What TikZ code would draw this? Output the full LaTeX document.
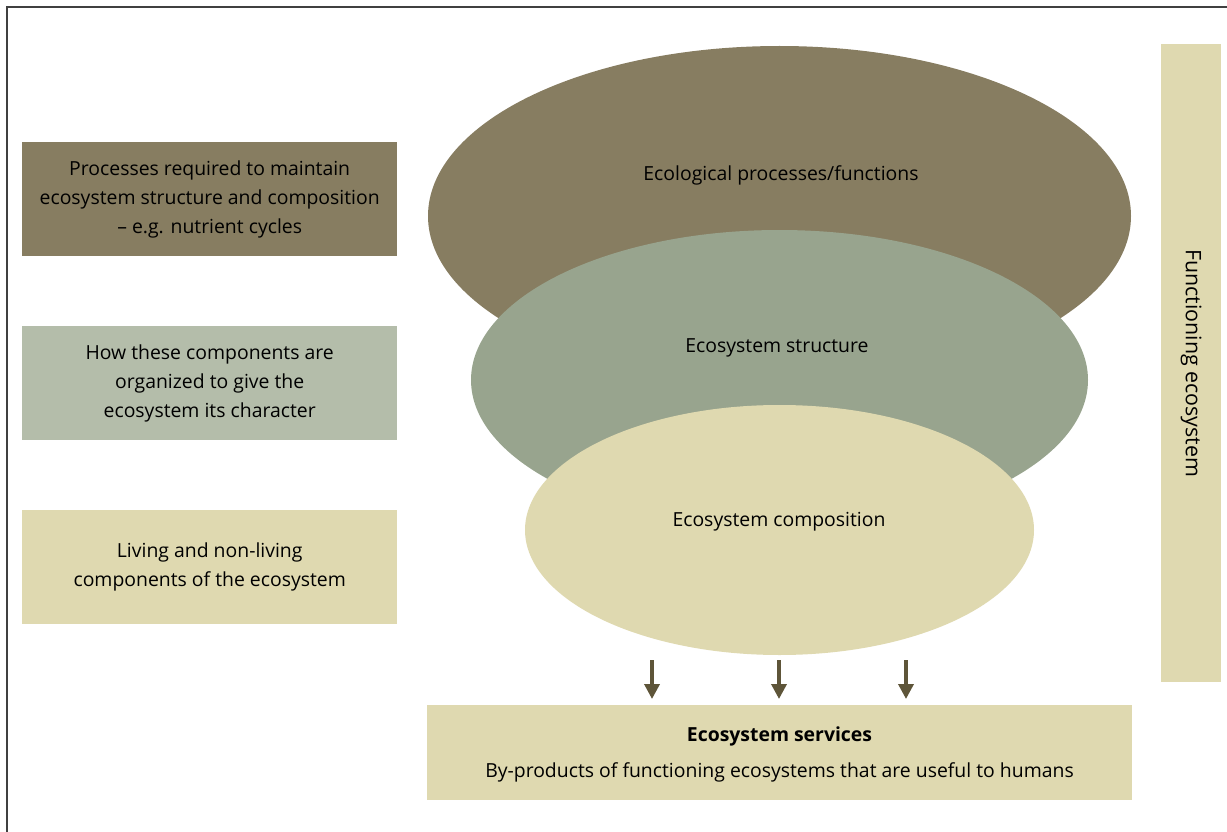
\documentclass[tikz,border=0pt]{standalone}
\usepackage{fontspec}
\setmainfont{Open Sans}
\definecolor{brownc}{HTML}{877D61}
\definecolor{sagec}{HTML}{98A48E}
\definecolor{sagelc}{HTML}{B4BDAA}
\definecolor{creamc}{HTML}{DFD9B0}
\definecolor{arrowc}{HTML}{5E5539}
\usetikzlibrary{arrows.meta}
\begin{document}
\begin{tikzpicture}[x=1pt,y=-1pt,
  every node/.style={font=\fontsize{19.4}{29}\selectfont, text=black},
  lbox/.style={minimum width=375pt, minimum height=114pt, inner sep=0pt, align=center, anchor=north west},
  flow/.style={draw=arrowc, line width=3.5pt, -{Triangle[length=15pt,width=15pt]}}]
\useasboundingbox (0,0) rectangle (1227,832);
\draw[line width=1.5pt, draw=black!75] (7,832) -- (7,7) -- (1227,7);
% left boxes
\node[lbox, fill=brownc] (p1) at (22,142) {Processes required to maintain\\ecosystem structure and composition\\– e.g. nutrient cycles};
\node[lbox, fill=sagelc] (p2) at (22,326) {How these components are\\organized to give the\\ecosystem its character};
\node[lbox, fill=creamc] (p3) at (22,510) {Living and non-living\\components of the ecosystem};
% ellipses
\fill[brownc] (779.5,216) ellipse [x radius=351.5, y radius=170];
\fill[sagec] (779.5,380) ellipse [x radius=308.5, y radius=150];
\fill[creamc] (779.5,530) ellipse [x radius=254.5, y radius=125];
\node (e1) at (781,175) {Ecological processes/functions};
\node (e2) at (777,348) {Ecosystem structure};
\node (e3) at (779,522) {Ecosystem composition};
% right bar
\node[fill=creamc, minimum width=60pt, minimum height=638pt, inner sep=0pt, anchor=north west] (fe) at (1161,44) {};
\node[rotate=-90, font=\fontsize{21.4}{29}\selectfont] (fet) at (fe.center) {Functioning ecosystem};
% services
\node[fill=creamc, minimum width=705pt, minimum height=95pt, inner sep=0pt, anchor=north west] (sv) at (427,705) {};
\node (svt) at (779.5,736) {\bfseries Ecosystem services};
\node (svs) at (779.5,772) {By-products of functioning ecosystems that are useful to humans};
% arrows
\coordinate (a1) at (652,660); \coordinate (b1) at (652,699);
\coordinate (a2) at (779,660); \coordinate (b2) at (779,699);
\coordinate (a3) at (906,660); \coordinate (b3) at (906,699);
\draw[flow] (a1) -- (b1);
\draw[flow] (a2) -- (b2);
\draw[flow] (a3) -- (b3);
\end{tikzpicture}
\end{document}
